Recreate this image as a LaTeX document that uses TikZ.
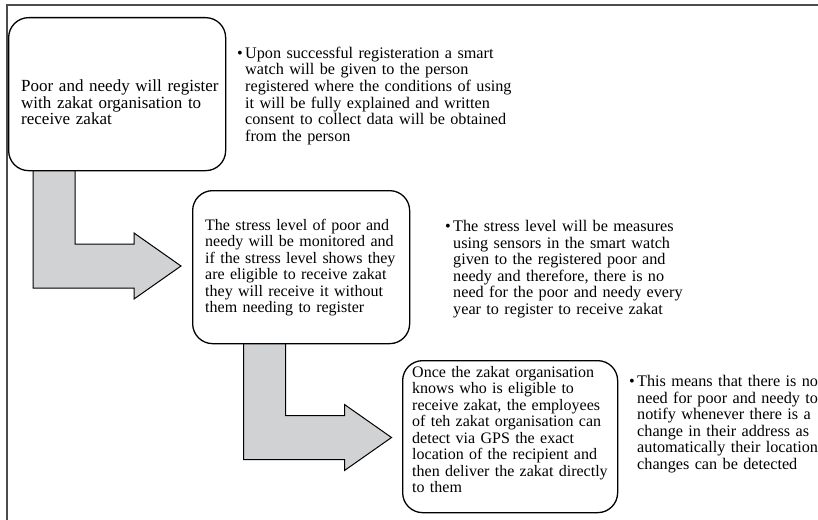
\documentclass[tikz,border=0pt]{standalone}
\usepackage{fontspec}
\setmainfont{Liberation Serif}
\begin{document}
\begin{tikzpicture}[x=1pt,y=-1pt,
  stepbox/.style={draw=black,line width=1.3pt,rounded corners=20pt,fill=white,inner sep=0pt},
  txt/.style={anchor=base west,inner sep=0pt,align=left,text width=400pt,
    font=\fontsize{16}{16.5}\selectfont},
  bigtxt/.style={txt,font=\fontsize{17}{16.5}\selectfont},
  btxt/.style={txt,font=\fontsize{16.2}{16.5}\selectfont},
  bent/.style={draw=black,line width=1pt,fill=arrowgray,line join=miter},
  frameline/.style={draw=black!70,line width=1.4pt}]
\definecolor{arrowgray}{HTML}{D1D2D4}
\useasboundingbox (0,0) rectangle (818,519);
% frame
\coordinate (fr0) at (7,525);
\coordinate (fr1) at (7,5);
\coordinate (fr2) at (825,5);
\draw[frameline] (fr0) -- (fr1) -- (fr2);
% arrows
\coordinate (a1) at (33,165);
\draw[bent] (a1) -- ++(42,0) -- (75,244) -- (134,244) -- (134,233) -- (181,266)
  -- (134,299) -- (134,288) -- (33,288) -- cycle;
\coordinate (a2) at (243.5,338);
\draw[bent] (a2) -- ++(42,0) -- (285.5,415.5) -- (344.5,415.5) -- (344.5,404.5) -- (391.5,437.5)
  -- (344.5,470.5) -- (344.5,459.5) -- (243.5,459.5) -- cycle;
% boxes
\path (8,17) node[stepbox,anchor=north west,minimum width=217pt,minimum height=153pt] (b1) {};
\path (192,190) node[stepbox,anchor=north west,minimum width=217pt,minimum height=153pt] (b2) {};
\path (402,360) node[stepbox,anchor=north west,minimum width=215pt,minimum height=152pt] (b3) {};
% box texts
\node[bigtxt] (t1) at (21,91.5) {Poor and needy will register\\with zakat organisation to\\receive zakat};
\node[txt] (t2) at (205,230) {The stress level of poor and\\needy will be monitored and\\if the stress level shows they\\are eligible to receive zakat\\they will receive it without\\them needing to register};
\node[txt] (t3) at (412,377) {Once the zakat organisation\\knows who is eligible to\\receive zakat, the employees\\of teh zakat organisation can\\detect via GPS the exact\\location of the recipient and\\then deliver the zakat directly\\to them};
% bullets
\node[btxt] (n1) at (245,58.5) {\llap{\textbullet\hspace{2.5pt}}Upon successful registeration a smart\\watch will be given to the person\\registered where the conditions of using\\it will be fully explained and written\\consent to collect data will be obtained\\from the person};
\node[btxt] (n2) at (453,231.5) {\llap{\textbullet\hspace{2.5pt}}The stress level will be measures\\using sensors in the smart watch\\given to the registered poor and\\needy and therefore, there is no\\need for the poor and needy every\\year to register to receive zakat};
\node[btxt] (n3) at (637,386.5) {\llap{\textbullet\hspace{2.5pt}}This means that there is no\\need for poor and needy to\\notify whenever there is a\\change in their address as\\automatically their location\\changes can be detected};
\end{tikzpicture}
\end{document}
